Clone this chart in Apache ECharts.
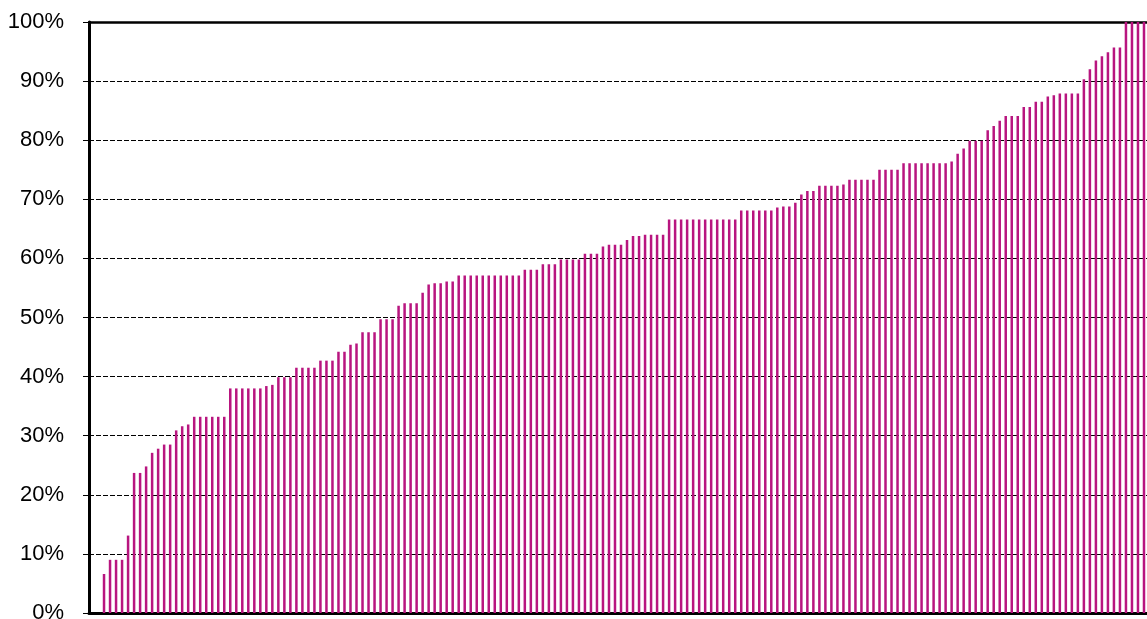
<!DOCTYPE html>
<html>
<head>
<meta charset="utf-8">
<script src="https://cdn.jsdelivr.net/npm/echarts@6/dist/echarts.min.js"></script>
<style>
  html, body { margin: 0; padding: 0; background: #fff; overflow: hidden; }
  #chart { width: 1147px; height: 619px; }
</style>
</head>
<body>
<div id="chart"></div>
<script>
// share per item, sorted ascending (%)
var values = [
  6.6, 9.0, 9.0, 9.0, 13.1, 23.7, 23.7, 24.8, 27.1, 27.8,
  28.5, 28.5, 30.9, 31.6, 31.9, 33.2, 33.2, 33.2, 33.2, 33.2,
  33.2, 38.0, 38.0, 38.0, 38.0, 38.0, 38.0, 38.4, 38.6, 39.9,
  39.9, 39.9, 41.5, 41.5, 41.5, 41.5, 42.7, 42.7, 42.7, 44.2,
  44.2, 45.4, 45.6, 47.5, 47.5, 47.5, 49.7, 49.7, 49.7, 52.0,
  52.4, 52.4, 52.4, 54.2, 55.6, 55.8, 55.8, 56.1, 56.1, 57.1,
  57.1, 57.1, 57.1, 57.1, 57.1, 57.1, 57.1, 57.1, 57.1, 57.1,
  58.1, 58.1, 58.1, 59.0, 59.0, 59.0, 59.8, 59.8, 59.8, 59.8,
  60.8, 60.8, 60.8, 62.0, 62.3, 62.3, 62.3, 63.1, 63.8, 63.8,
  64.0, 64.0, 64.0, 64.0, 66.6, 66.6, 66.6, 66.6, 66.6, 66.6,
  66.6, 66.6, 66.6, 66.6, 66.6, 66.6, 68.1, 68.1, 68.1, 68.1,
  68.1, 68.1, 68.6, 68.8, 68.8, 69.4, 70.8, 71.4, 71.4, 72.3,
  72.3, 72.3, 72.3, 72.5, 73.3, 73.3, 73.3, 73.3, 73.3, 75.0,
  75.0, 75.0, 75.0, 76.1, 76.1, 76.1, 76.1, 76.1, 76.1, 76.1,
  76.1, 76.4, 77.7, 78.6, 79.9, 79.9, 79.9, 81.7, 82.4, 83.3,
  84.1, 84.1, 84.1, 85.6, 85.6, 86.5, 86.5, 87.4, 87.6, 87.9,
  87.9, 87.9, 87.9, 90.3, 92.0, 93.5, 94.2, 94.9, 95.7, 95.7,
  100, 100, 100, 100
];
var yTicks = [0, 10, 20, 30, 40, 50, 60, 70, 80, 90, 100];

var chart = echarts.init(document.getElementById('chart'), null, { renderer: 'canvas' });

var option = {
  animation: false,
  backgroundColor: '#fff',
  grid: {
    left: 89, right: 0, top: 22, bottom: 6,
    containLabel: false,
    outerBoundsMode: 'none'
  },
  xAxis: [
    {
      type: 'value',
      min: -2.5,
      max: 173.5,
      axisLine: { show: true, onZero: false, lineStyle: { color: '#000', width: 3 } },
      axisTick: { show: false },
      axisLabel: { show: false },
      splitLine: { show: false }
    },
    {
      type: 'value',
      position: 'top',
      min: -2.5,
      max: 173.5,
      axisLine: { show: true, onZero: false, lineStyle: { color: '#000', width: 2.5 } },
      axisTick: { show: false },
      axisLabel: { show: false },
      splitLine: { show: false }
    }
  ],
  yAxis: {
    type: 'value',
    min: yTicks[0],
    max: yTicks[yTicks.length - 1],
    interval: 10,
    axisLine: { show: true, onZero: false, lineStyle: { color: '#000', width: 3 } },
    axisTick: { show: true, length: 6, lineStyle: { color: '#000', width: 1 } },
    axisLabel: {
      margin: 25,
      color: '#000',
      fontFamily: 'Liberation Sans, Arial, sans-serif',
      fontSize: 22,
      formatter: '{value}%'
    },
    splitLine: { show: true, lineStyle: { color: '#000', width: 1, type: [5, 2] } }
  },
  series: [{
    type: 'bar',
    xAxisIndex: 0,
    barWidth: 2.5,
    itemStyle: { color: '#B8157F' },
    data: values.map(function (v, i) { return [i, v]; })
  }]
};

chart.setOption(option);
</script>
</body>
</html>
